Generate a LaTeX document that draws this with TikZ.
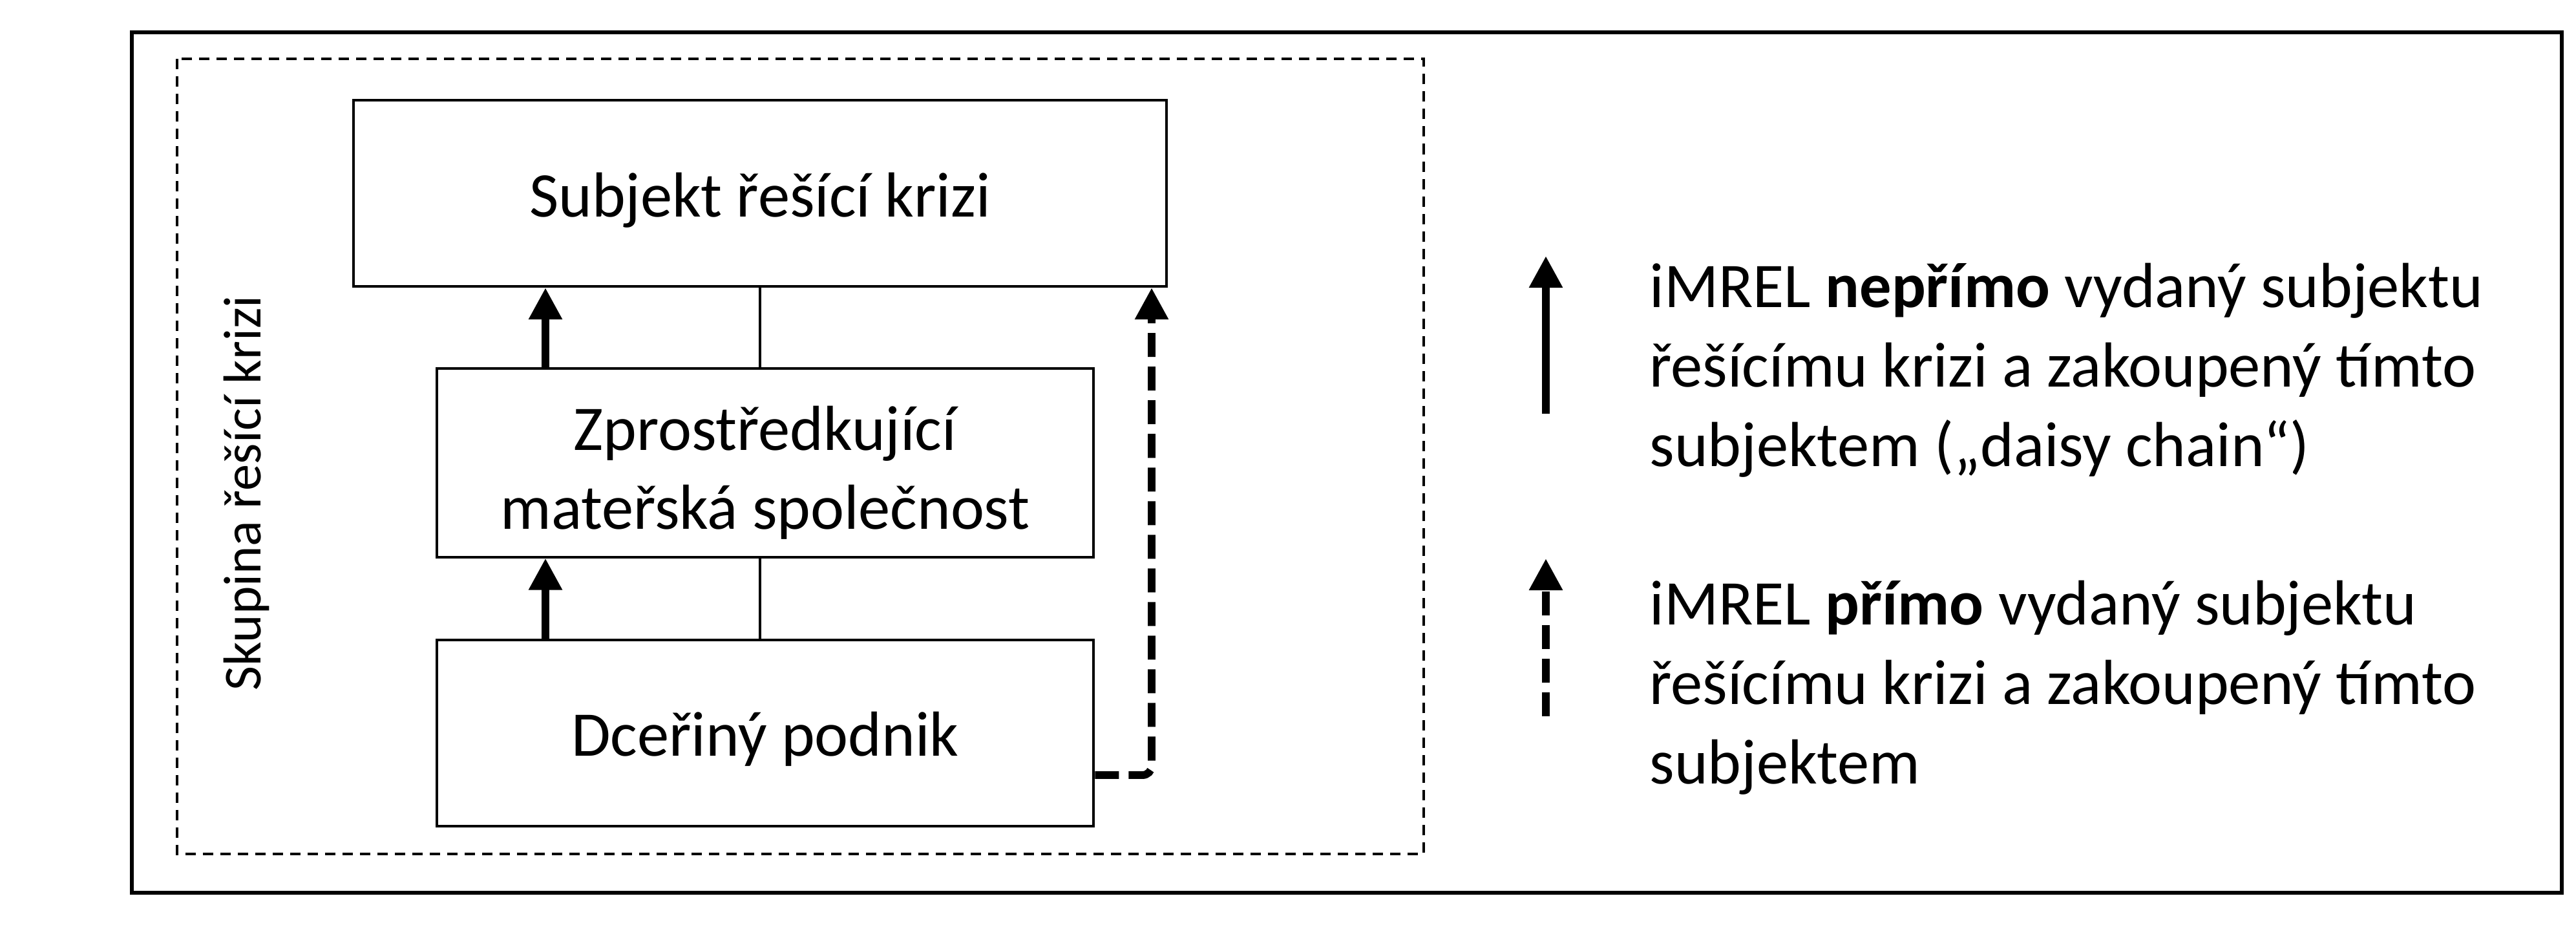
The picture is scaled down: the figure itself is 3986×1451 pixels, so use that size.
\documentclass[tikz,border=0pt]{standalone}
\usepackage{fontspec}
\setmainfont{Carlito}
\usetikzlibrary{arrows.meta}
\begin{document}
\begin{tikzpicture}[x=0.01cm,y=-0.01cm,
  boxst/.style={draw, line width=1.15pt, inner sep=0pt, align=center,
    text depth=0pt, font=\fontsize{28}{34.7}\selectfont},
  thinline/.style={line width=1.15pt},
  thickarr/.style={line width=3.4pt, -{Triangle[width=0.49cm,length=0.49cm]}},
  dasharr/.style={thickarr, dash pattern=on 0.37cm off 0.15cm},
  legtext/.style={anchor=base west, inner sep=0pt, align=left,
    font=\fontsize{28}{34.9}\selectfont}]
\useasboundingbox (0,0) rectangle (3986,1451);
% outer frame and group
\draw[line width=1.5pt] (204,50) rectangle (3964,1381);
\draw[line width=0.9pt, dash pattern=on 0.16cm off 0.11cm] (274,91) rectangle (2203,1321);
% boxes
\node[boxst, text height=0.72cm, minimum width=12.58cm, minimum height=2.88cm] (top) at (1176,299) {Subjekt řešící krizi};
\node[boxst, text height=2.05cm, minimum width=10.16cm, minimum height=2.91cm] (mid) at (1184,716) {Zprostředkující\\mateřská společnost};
\node[boxst, text height=0.70cm, minimum width=10.16cm, minimum height=2.88cm] (bot) at (1184,1134) {Dceřiný podnik};
% group label
\node[rotate=90, inner sep=0pt, font=\fontsize{23.5}{28}\selectfont] (grp) at (381,763) {Skupina řešící krizi};
% helper coordinates
\coordinate (xa) at (844,0);
\coordinate (xl) at (1176,0);
\coordinate (xr) at (1782,0);
\coordinate (yd) at (0,1199);
% connectors
\draw[thinline] (mid.north -| xl) -- (top.south -| xl);
\draw[thinline] (bot.north -| xl) -- (mid.south -| xl);
\draw[thickarr] (mid.north -| xa) -- (top.south -| xa);
\draw[thickarr] (bot.north -| xa) -- (mid.south -| xa);
\draw[dasharr, rounded corners=4pt] (bot.east |- yd) -| (top.south -| xr);
% legend
\coordinate (l1a) at (2392,640);
\coordinate (l1b) at (2392,396);
\coordinate (l2a) at (2392,1108);
\coordinate (l2b) at (2392,864);
\draw[thickarr] (l1a) -- (l1b);
\draw[dasharr] (l2a) -- (l2b);
\node[legtext] (t1) at (2552,721) {iMREL \textbf{nepřímo} vydaný subjektu\\řešícímu krizi a zakoupený tímto\\subjektem („daisy chain“)};
\node[legtext] (t2) at (2552,1212) {iMREL \textbf{přímo} vydaný subjektu\\řešícímu krizi a zakoupený tímto\\subjektem};
\end{tikzpicture}
\end{document}
